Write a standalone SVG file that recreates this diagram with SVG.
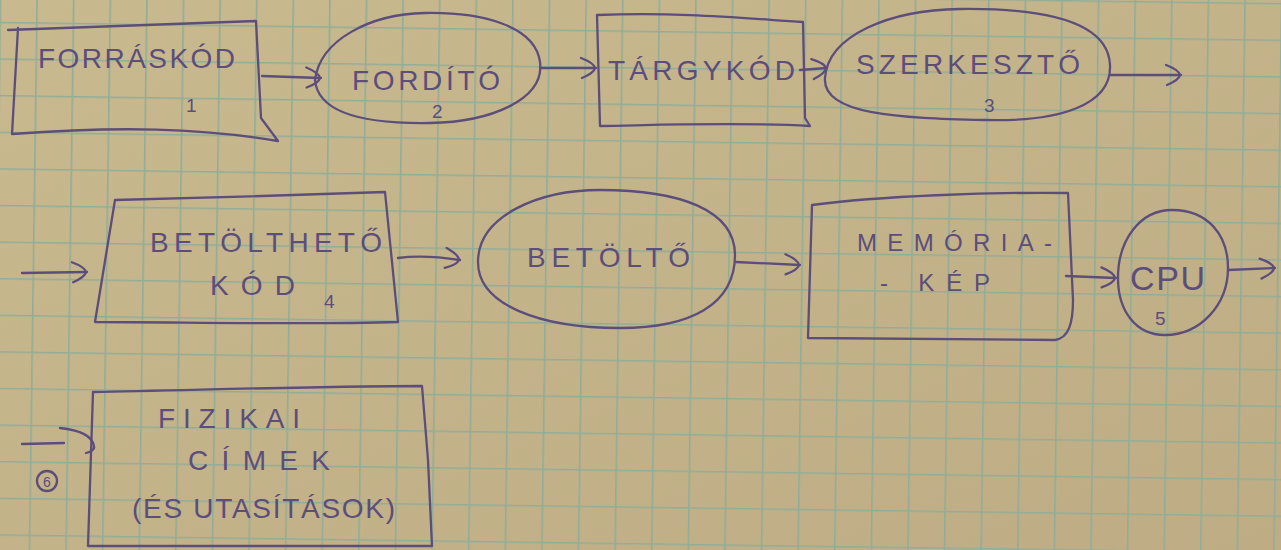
<svg xmlns="http://www.w3.org/2000/svg" width="1281" height="550" viewBox="0 0 1281 550">
  <style>
    .ink { fill: none; stroke: #5c4d7b; stroke-width: 2.3; stroke-linecap: round; stroke-linejoin: round; }
    .lbl { font-family: "Liberation Sans", "DejaVu Sans", sans-serif; fill: #5c4d7b; font-size: 28px; }
    .sm { font-size: 24px; }
    .num { font-family: "Liberation Sans", "DejaVu Sans", sans-serif; fill: #5c4d7b; font-size: 19px; }
  </style>
  <defs>
    <linearGradient id="paper" x1="0" y1="0" x2="1" y2="1">
      <stop offset="0" stop-color="#c9b98f"/>
      <stop offset="1" stop-color="#bead84"/>
    </linearGradient>
    <pattern id="grid" patternUnits="userSpaceOnUse" x="32.5" y="30.7" width="36.6" height="36.6" patternTransform="rotate(0.8 640 275)">
      <path d="M0,0 H36.6 M0,0 V36.6" fill="none" stroke="#90ad98" stroke-width="3.2"/>
    </pattern>
    <marker id="head" viewBox="-16 -13 20 26" refX="2" refY="0" markerWidth="20" markerHeight="26" orient="auto" markerUnits="userSpaceOnUse">
      <path d="M-13,-10 Q0,-5 1,0 Q0,5 -12,10" fill="none" stroke="#5c4d7b" stroke-width="2.3" stroke-linecap="round"/>
    </marker>
  </defs>

  <!-- graph paper -->
  <rect width="1281" height="550" fill="url(#paper)"/>
  <rect x="-20" y="-20" width="1321" height="590" fill="url(#grid)"/>

  <!-- connectors -->
  <g id="connectors" class="ink">
    <path d="M262,76 L321,78" marker-end="url(#head)"/>
    <path d="M540,68 L596,68" marker-end="url(#head)"/>
    <path d="M800,70 L827,68" marker-end="url(#head)"/>
    <path d="M1110,75 L1181,75" marker-end="url(#head)"/>
    <path d="M22,273 L87,272" marker-end="url(#head)"/>
    <path d="M398,258 C420,255 440,257 460,260" marker-end="url(#head)"/>
    <path d="M736,262 L800,265" marker-end="url(#head)"/>
    <path d="M1066,276 L1116,278" marker-end="url(#head)"/>
    <path d="M1228,270 L1275,268" marker-end="url(#head)"/>
    <path d="M22,444 L64,443"/>
    <path d="M60,428 C80,430 92,436 94,446 C95,450 90,452 86,453"/>
  </g>

  <!-- 1: source code -->
  <g id="forraskod">
    <path class="ink" d="M8,30 L256,21 L261,118 L278,141 C200,128 120,126 12,134 L18,28"/>
    <text class="lbl" x="38" y="68" textLength="197">FORRÁSKÓD</text>
    <text class="num" x="186" y="112">1</text>
  </g>

  <!-- 2: compiler -->
  <g id="fordito">
    <path class="ink" d="M315,80 C320,40 370,14 425,13 C480,12 535,25 540,62 C545,100 490,122 430,123 C370,124 318,115 315,80 Z"/>
    <text class="lbl" x="352" y="90" textLength="148">FORDÍTÓ</text>
    <text class="num" x="432" y="118">2</text>
  </g>

  <!-- object code -->
  <g id="targykod">
    <path class="ink" d="M597,15 C680,12 740,18 803,22 L805,118 L810,126 C740,122 660,125 600,126 L597,15"/>
    <text class="lbl" x="608" y="80" textLength="187">TÁRGYKÓD</text>
  </g>

  <!-- 3: linker -->
  <g id="szerkeszto">
    <path class="ink" d="M825,78 C828,35 890,10 960,9 C1040,8 1108,20 1110,65 C1112,105 1060,122 985,120 C900,118 822,115 825,78 Z"/>
    <text class="lbl" x="856" y="74" textLength="224">SZERKESZTŐ</text>
    <text class="num" x="984" y="112">3</text>
  </g>

  <!-- 4: loadable code -->
  <g id="betoltheto">
    <path class="ink" d="M115,200 C200,198 300,195 385,192 L398,322 C300,325 180,322 95,322 L115,200 Z"/>
    <text class="lbl" x="150" y="252" textLength="232">BETÖLTHETŐ</text>
    <text class="lbl" x="210" y="295" textLength="85">KÓD</text>
    <text class="num" x="324" y="308">4</text>
  </g>

  <!-- loader -->
  <g id="betolto">
    <path class="ink" d="M478,262 C478,215 540,190 600,190 C680,190 735,210 735,255 C735,305 690,328 620,328 C540,328 478,305 478,262 Z"/>
    <text class="lbl" x="527" y="267" textLength="163">BETÖLTŐ</text>
  </g>

  <!-- memory image -->
  <g id="memoriakep">
    <path class="ink" d="M812,205 C880,196 990,192 1068,193 L1073,300 C1073,325 1068,338 1055,340 C960,340 880,338 808,338 L812,205 Z"/>
    <text class="lbl sm" x="857" y="251" textLength="195">MEMÓRIA-</text>
    <text class="lbl sm" x="880" y="291" textLength="110">- KÉP</text>
  </g>

  <!-- 5: CPU -->
  <g id="cpu">
    <path class="ink" d="M1118,278 C1118,240 1140,210 1172,210 C1208,210 1228,235 1228,268 C1228,305 1200,335 1165,335 C1135,335 1118,310 1118,278 Z"/>
    <text class="lbl" x="1130" y="290" textLength="75" style="font-size:34px">CPU</text>
    <text class="num" x="1155" y="325">5</text>
  </g>

  <!-- 6: physical addresses -->
  <g id="fizikai">
    <path class="ink" d="M93,392 C200,390 330,386 422,386 L428,460 L432,546 L88,546 L93,392 Z"/>
    <text class="lbl" x="158" y="428" textLength="142">FIZIKAI</text>
    <text class="lbl" x="188" y="470" textLength="142">CÍMEK</text>
    <text class="lbl" x="132" y="518" textLength="263">(ÉS UTASÍTÁSOK)</text>
    <circle class="ink" cx="47" cy="481" r="10"/>
    <text class="num" x="47" y="487" text-anchor="middle" style="font-size:14px">6</text>
  </g>
</svg>
